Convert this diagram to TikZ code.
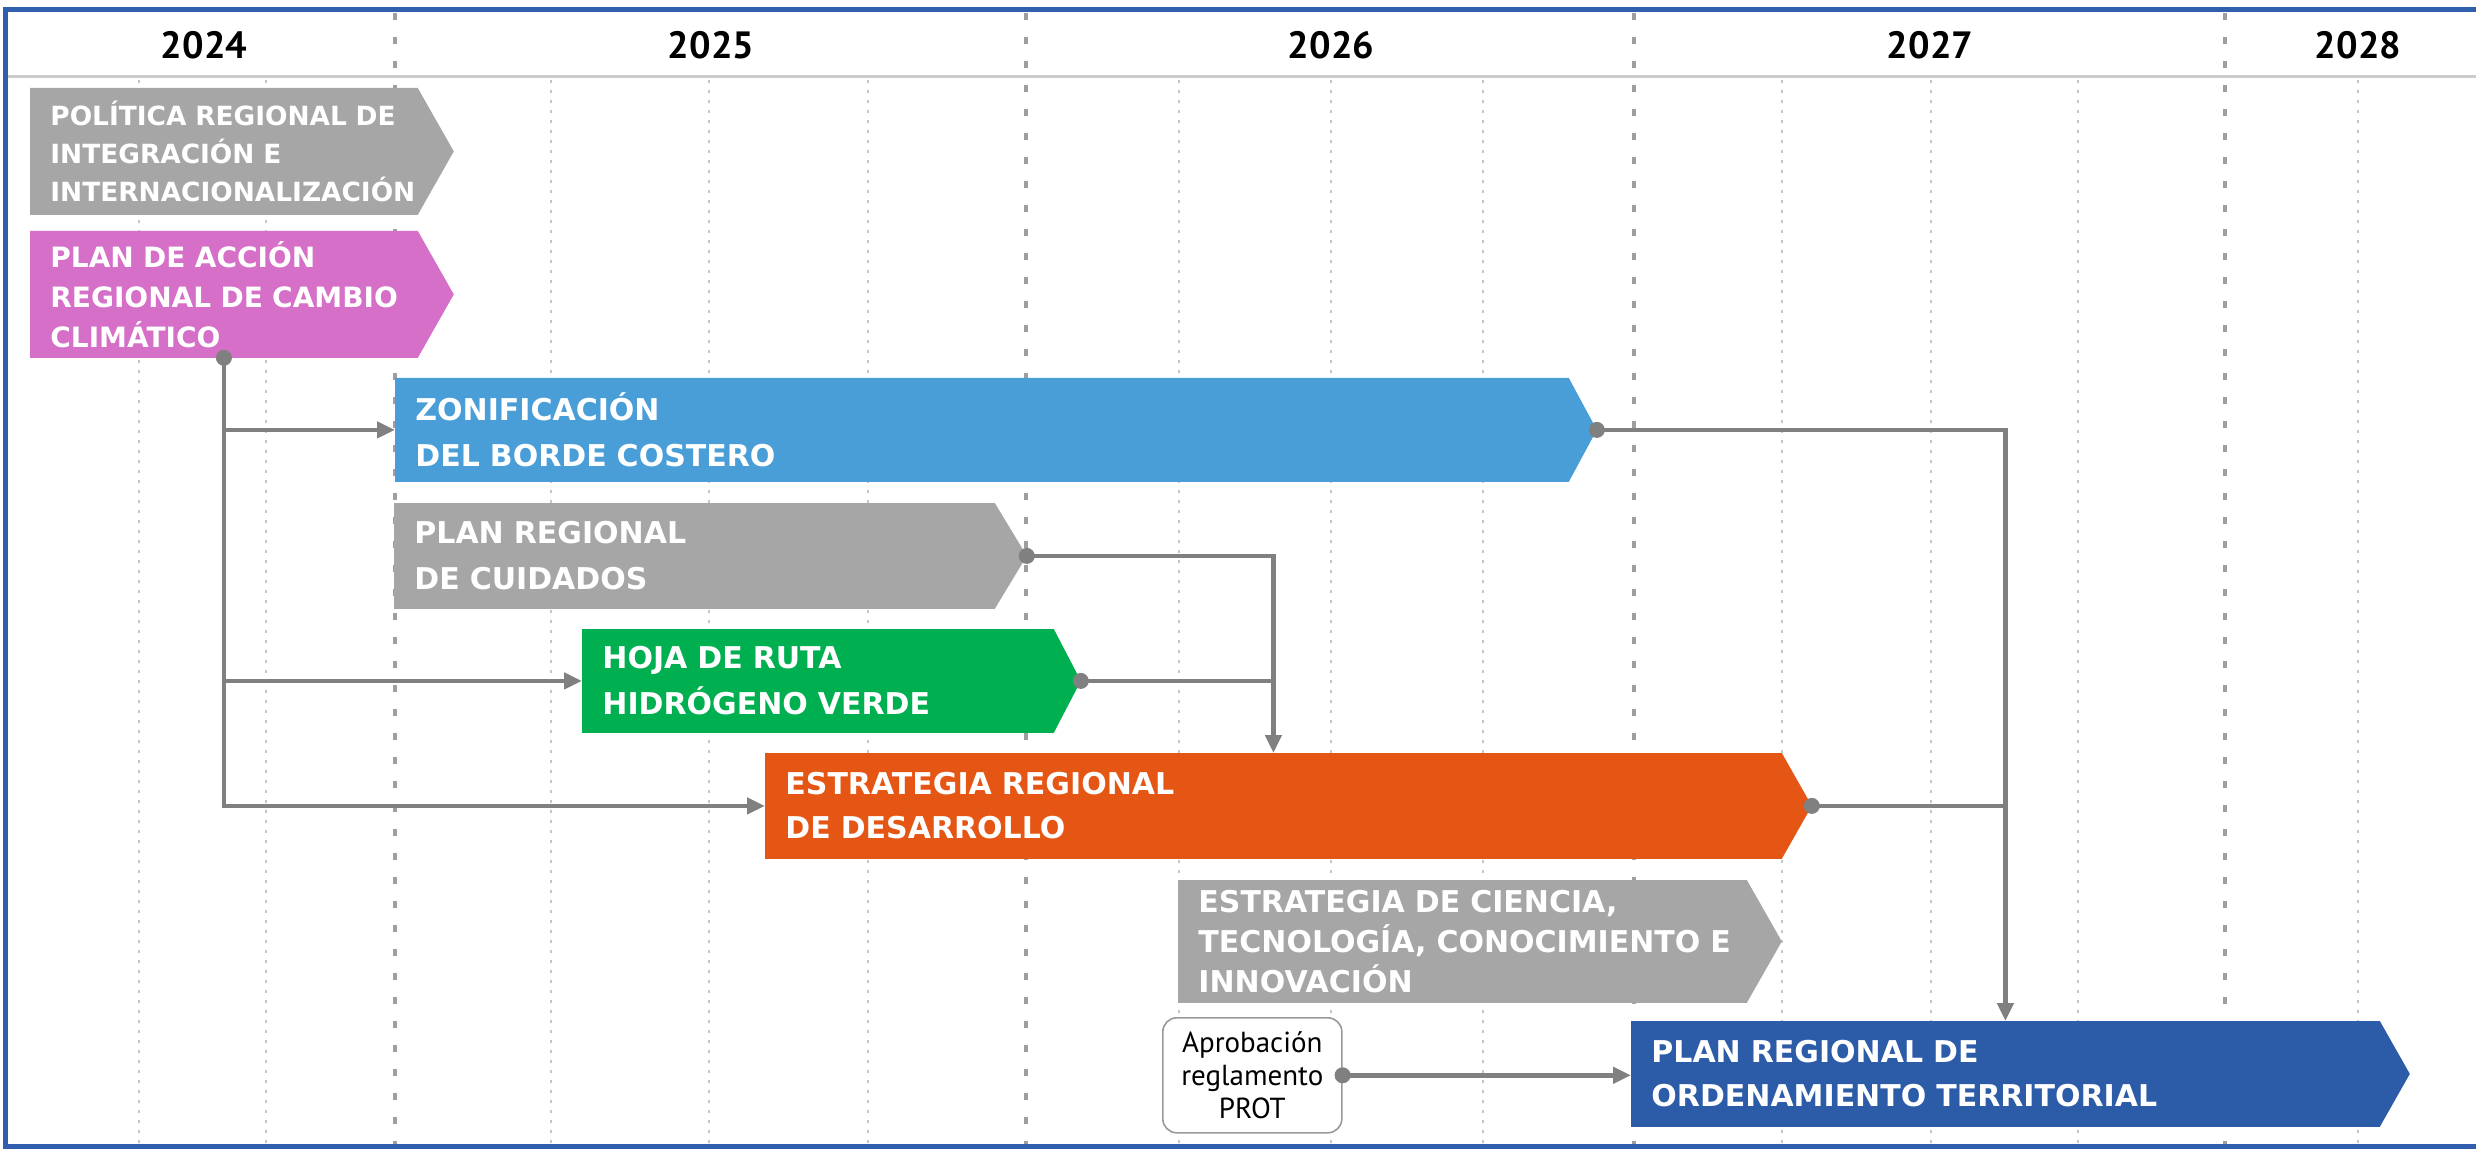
\documentclass[tikz,border=0pt]{standalone}
\usepackage{fontspec}
\setmainfont{DejaVu Sans}
\newfontfamily\ptsans{PT Sans}
\usetikzlibrary{arrows.meta,backgrounds}
\definecolor{grisbox}{HTML}{A6A6A6}
\definecolor{rosa}{HTML}{D56FC8}
\definecolor{celeste}{HTML}{4A9ED8}
\definecolor{verde}{HTML}{00B050}
\definecolor{naranja}{HTML}{E55614}
\definecolor{azul}{HTML}{2C5BA7}
\definecolor{marco}{HTML}{2F5FAD}
\definecolor{linkgray}{HTML}{808080}
\newcommand{\boxfont}{\bfseries\fontsize{15}{23}\selectfont}
\newcommand{\drawquarters}[1]
{\foreach \x in {#1}
		{\draw[quarter] (\x,80) -- (\x,1146);
			};
}
\newcommand{\drawyears}[1]
{\foreach \x in {#1}
		{\draw[yearline] (\x,13) -- (\x,1146);
			};
}
\begin{document}
\begin{tikzpicture}[>={Triangle[length=9pt,width=8pt]},x={(.5pt,0)},y={(0,-.5pt)},
	quarter/.style={draw=gray!45,line width=.6pt,dash pattern=on 1.7pt off 3.3pt},
	yearline/.style={draw=gray!75,line width=2pt,dash pattern=on 3.5pt off 8.5pt},
	chev/.style={anchor=north west,inner xsep=10pt,inner ysep=0pt,text=white,font=\boxfont,align=left},
	link/.style={draw=linkgray,line width=2.2pt},
	year/.style={font=\ptsans\bfseries\fontsize{19}{20}\selectfont}]
	\useasboundingbox (0,0) rectangle (2476,1149);
	\node[year] (y2024) at (204,45) {2024};
	\node[year] (y2025) at (711,45) {2025};
	\node[year] (y2026) at (1331,45) {2026};
	\node[year] (y2027) at (1930,45) {2027};
	\node[year] (y2028) at (2358,45) {2028};
	\node[chev,minimum width=193.5pt,text width=173.5pt,minimum height=63pt,font=\bfseries\fontsize{13.2}{19}\selectfont] (pri) at (30,88) {\mbox{POLÍTICA REGIONAL DE}\\INTEGRACIÓN E\\INTERNACIONALIZACIÓN};
	\node[chev,minimum width=193.5pt,text width=173.5pt,minimum height=63pt,font=\bfseries\fontsize{14}{20}\selectfont] (pac) at (30,231) {PLAN DE ACCIÓN\\\mbox{REGIONAL DE CAMBIO}\\CLIMÁTICO};
	\node[chev,minimum width=586.5pt,text width=566.5pt,minimum height=51.5pt] (zon) at (395,378) {ZONIFICACIÓN\\DEL BORDE COSTERO};
	\node[chev,minimum width=300pt,text width=280pt,minimum height=52.5pt] (cui) at (394,503) {PLAN REGIONAL\\DE CUIDADOS};
	\node[chev,minimum width=235.5pt,text width=215.5pt,minimum height=51.5pt] (hoja) at (582,629) {HOJA DE RUTA\\HIDRÓGENO VERDE};
	\node[chev,minimum width=508pt,text width=488pt,minimum height=52.5pt,font=\bfseries\fontsize{15}{22}\selectfont] (erd) at (765,753) {ESTRATEGIA REGIONAL\\DE DESARROLLO};
	\node[chev,minimum width=284pt,text width=264pt,minimum height=61pt,font=\bfseries\fontsize{15}{20}\selectfont] (cti) at (1178,880) {ESTRATEGIA DE CIENCIA,\\\mbox{TECNOLOGÍA, CONOCIMIENTO E}\\INNOVACIÓN};
	\node[chev,minimum width=374pt,text width=354pt,minimum height=52.5pt,font=\bfseries\fontsize{15}{22}\selectfont] (ord) at (1631,1021) {PLAN REGIONAL DE\\ORDENAMIENTO TERRITORIAL};
	\node[draw=gray!80,line width=.8pt,rounded corners=7pt,fill=white,minimum width=89.5pt,minimum height=57.5pt,align=center,inner sep=0pt,anchor=north west,font=\ptsans\fontsize{14.5}{16.5}\selectfont] (aprob) at (1162,1017) {Aprobación\\reglamento\\PROT};
	\begin{scope}[on background layer]
		\drawyears{395,1026,1634,2225};
		\drawquarters{139,266,551,709,868,1179,1331,1483,1782,1931,2078,2358};
		\foreach \n/\col/\tip in {pri/grisbox/18pt,pac/rosa/18pt,zon/celeste/14pt,cui/grisbox/16pt,hoja/verde/13.5pt,erd/naranja/15pt,cti/grisbox/17.5pt,ord/azul/15pt}
			{\fill[\col] (\n.north west) -- (\n.north east) -- ([xshift=\tip]\n.east) -- (\n.south east) -- (\n.south west) -- cycle;
			\coordinate (\n-tip) at ([xshift=\tip]\n.east);
			};
	\end{scope}
	\draw[link,->] (pac.south) |- (zon.west);
	\draw[link,->] (pac.south) |- (hoja.west);
	\draw[link,->] (pac.south) |- (erd.west);
	\draw[link,->] (cui-tip) -| (erd.north);
	\draw[link] (hoja-tip) -- (hoja-tip -| erd.north);
	\draw[link,->] (zon-tip) -| (ord.north);
	\draw[link] (erd-tip) -- (erd-tip -| ord.north);
	\draw[link,->] (aprob.east) -- (aprob.east -| ord.west);
	\foreach \n in {pac.south,zon-tip,cui-tip,hoja-tip,erd-tip,aprob.east}
		{\fill[linkgray] (\n) circle (4pt);
			};
	\draw[gray!40,line width=1.5pt] (6,77) -- (2476,77);
	\draw[marco,line width=2.5pt] (2476,10) -- (5,10) -- (5,1146) -- (2476,1146);
\end{tikzpicture}
\end{document}
